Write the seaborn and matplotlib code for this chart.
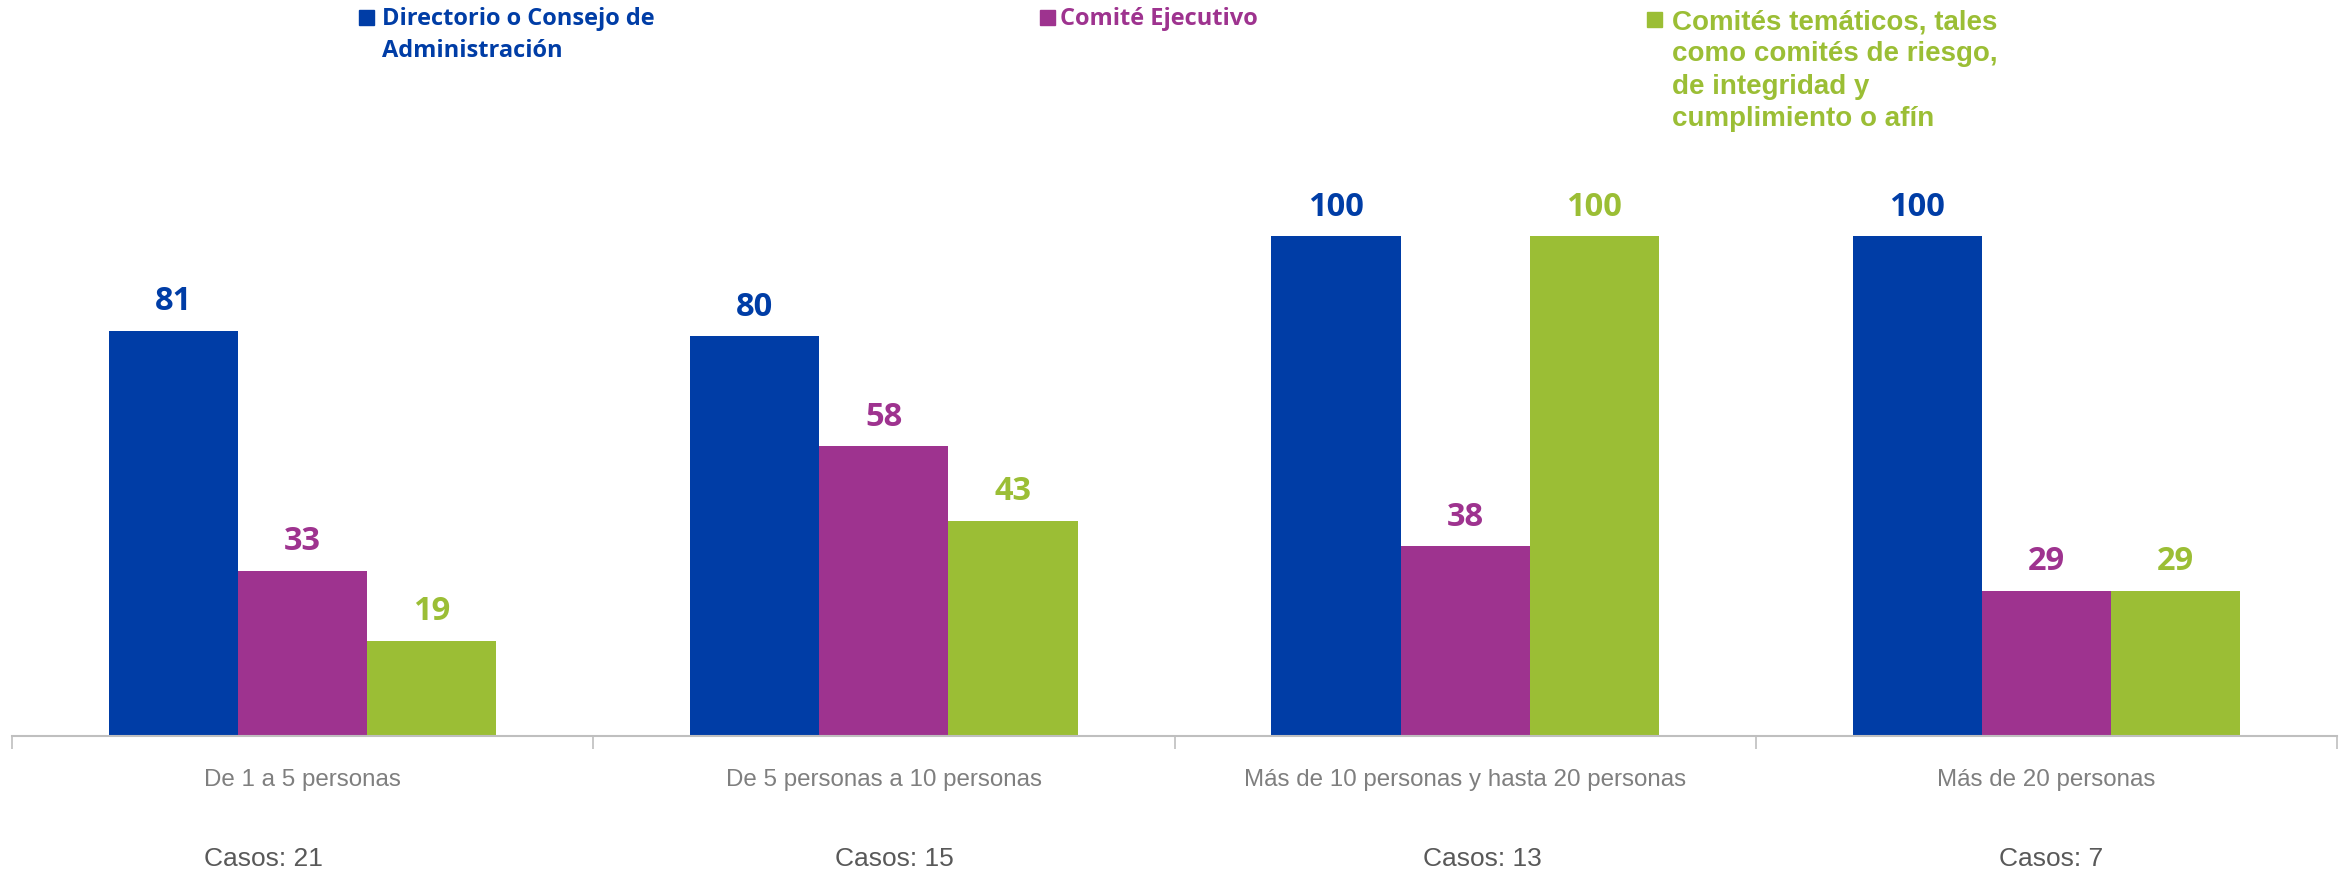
import pandas as pd
import matplotlib.pyplot as plt
from matplotlib.patches import Rectangle
import seaborn as sns

# data
categorias = ['De 1 a 5 personas', 'De 5 personas a 10 personas',
              'Más de 10 personas y hasta 20 personas', 'Más de 20 personas']
casos = ['Casos: 21', 'Casos: 15', 'Casos: 13', 'Casos: 7']
series = ['Directorio o Consejo de\nAdministración', 'Comité Ejecutivo',
          'Comités temáticos, tales\ncomo comités de riesgo,\nde integridad y\ncumplimiento o afín']
directorio = [81, 80, 100, 100]
ejecutivo = [33, 58, 38, 29]
tematicos = [19, 43, 100, 29]

colores = ['#003DA6', '#9E338F', '#9BBE35']

df = pd.DataFrame({
    'cat': categorias * 3,
    'serie': [series[0]] * 4 + [series[1]] * 4 + [series[2]] * 4,
    'valor': directorio + ejecutivo + tematicos,
})

sns.set_style('white')
plt.rcParams['font.family'] = ['Liberation Sans', 'DejaVu Sans']

fig = plt.figure(figsize=(23.48, 8.73), dpi=100)
ax = fig.add_axes([12 / 2348, 137 / 873, 2325 / 2348, 500 / 873])

sns.barplot(data=df, x='cat', y='valor', hue='serie', hue_order=series,
            palette=colores, width=0.667, gap=0, saturation=1, linewidth=0,
            legend=False, ax=ax)

ax.set_xlim(-0.5, 3.5)
ax.set_ylim(0, 100)
ax.set_xlabel('')
ax.set_ylabel('')
ax.set_yticks([])
for s in ['top', 'right', 'left']:
    ax.spines[s].set_visible(False)
ax.spines['bottom'].set_color('#BFBFBF')
ax.spines['bottom'].set_linewidth(1.5)

# tick marks on category boundaries
ax.set_xticks([-0.5, 0.5, 1.5, 2.5, 3.5], minor=True)
ax.tick_params(axis='x', which='minor', length=9, width=1.2, color='#BFBFBF', direction='out', bottom=True)
ax.tick_params(axis='x', which='major', length=0, pad=24, labelsize=17.4, labelcolor='#7F7F7F')

# value labels
for cont, col in zip(ax.containers, colores):
    ax.bar_label(cont, fmt='%d', padding=9, color=col, fontsize=23.5,
                 fontweight='bold', family='Open Sans')

# casos
offsets = [-0.067, 0.018, 0.03, 0.008]
for i, (c, o) in enumerate(zip(casos, offsets)):
    ax.text(i + o, -0.245, c, transform=ax.get_xaxis_transform(), ha='center', va='center',
            fontsize=19, color='#595959')

# legend drawn by hand
H = 873.0
W = 2348.0
leg = [
    (359, 10, 382, 19, 'Open Sans', 17, 1.45),
    (1040, 10, 1060, 19, 'Open Sans', 17, 1.45),
    (1647, 12, 1672, 21, 'Liberation Sans', 20, 1.32),
]
for (sx, sy, tx, ty, fam, fs, ls), txt, col in zip(leg, series, colores):
    fig.patches.append(Rectangle((sx / W, 1 - (sy + 15) / H), 15 / W, 15 / H,
                                 transform=fig.transFigure, color=col))
    fig.text(tx / W, 1 - (ty - 12) / H, txt, ha='left', va='top', color=col,
             fontsize=fs, fontweight='bold', family=fam, linespacing=ls)

fig.savefig('out.png', dpi=100)
